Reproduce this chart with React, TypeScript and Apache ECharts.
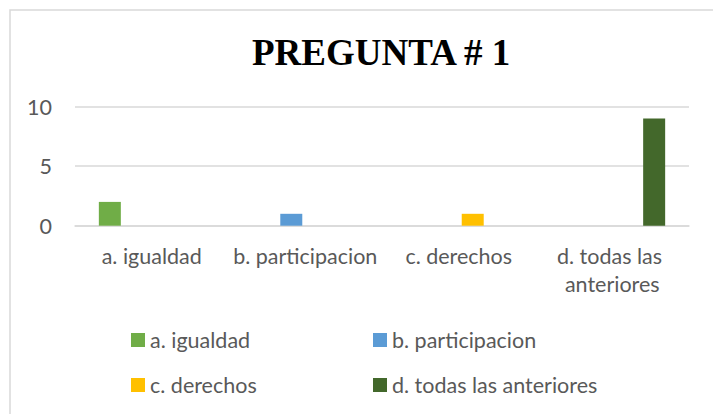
import React, { useEffect, useRef } from "react";
import * as echarts from "echarts";

const titleText = "PREGUNTA # 1";
const categories = ["a. igualdad", "b. participacion", "c. derechos", "d. todas las anteriores"];
const seriesNames = ["a. igualdad", "b. participacion", "c. derechos", "d. todas las anteriores"];
const seriesA = [2, 0, 0, 0];
const seriesB = [0, 1, 0, 0];
const seriesC = [0, 0, 1, 0];
const seriesD = [0, 0, 0, 9];
const seriesColors = ["#70AD47", "#5B9BD5", "#FFC000", "#43682B"];
const yMin = 0;
const yMax = 10;
const yInterval = 5;

const labelFont = "Lato, 'Open Sans', sans-serif";
const textGray = "#595959";
const fs = 21.5;

export default function App() {
  const ref = useRef<HTMLDivElement>(null);
  useEffect(() => {
    if (!ref.current) return;
    const chart = echarts.init(ref.current, null, { renderer: "svg" });
    const values = [seriesA, seriesB, seriesC, seriesD];
    const legendText = { fontFamily: labelFont, fontSize: fs, color: textGray, lineHeight: 24 };
    chart.setOption({
      animation: false,
      backgroundColor: "#ffffff",
      title: {
        text: titleText,
        left: 252,
        top: 34,
        padding: 0,
        textStyle: {
          fontFamily: "'Liberation Serif', 'Times New Roman', serif",
          fontWeight: "bold",
          fontSize: 37,
          color: "#000000",
        },
      },
      graphic: [
        {
          type: "rect",
          shape: { x: 10, y: 10, width: 740, height: 440 },
          style: { fill: "none", stroke: "#D9D9D9", lineWidth: 1.5 },
          silent: true,
          z: -1,
        },
      ],
      legend: [
        {
          orient: "vertical",
          left: 131,
          top: 328,
          padding: 0,
          itemWidth: 14,
          itemHeight: 14,
          itemGap: 21,
          icon: "rect",
          data: [seriesNames[0], seriesNames[2]],
          textStyle: legendText,
        },
        {
          orient: "vertical",
          left: 373,
          top: 328,
          padding: 0,
          itemWidth: 14,
          itemHeight: 14,
          itemGap: 21,
          icon: "rect",
          data: [seriesNames[1], seriesNames[3]],
          textStyle: legendText,
        },
      ],
      grid: { left: 75, right: 24, top: 106.7, bottom: 188.3, containLabel: false },
      xAxis: {
        type: "category",
        data: categories,
        axisLine: { show: true, lineStyle: { color: "#D9D9D9", width: 1.5 } },
        axisTick: { show: false },
        axisLabel: {
          fontFamily: labelFont,
          fontSize: fs,
          color: textGray,
          margin: 16,
          lineHeight: 28,
          width: 152,
          overflow: "break",
          interval: 0,
        },
      },
      yAxis: {
        type: "value",
        min: yMin,
        max: yMax,
        interval: yInterval,
        axisLine: { show: false },
        axisTick: { show: false },
        splitLine: { lineStyle: { color: "#D9D9D9", width: 1.5 } },
        axisLabel: { fontFamily: labelFont, fontSize: fs, color: textGray, margin: 23 },
      },
      series: seriesNames.map((name, i) => ({
        name,
        type: "bar",
        data: values[i],
        barWidth: 22,
        barGap: "27%",
        itemStyle: { color: seriesColors[i] },
      })),
    });
    return () => chart.dispose();
  }, []);
  return (
    <div
      ref={ref}
      style={{ position: "fixed", left: 0, top: 0, width: 713, height: 414, background: "#fff" }}
    />
  );
}
